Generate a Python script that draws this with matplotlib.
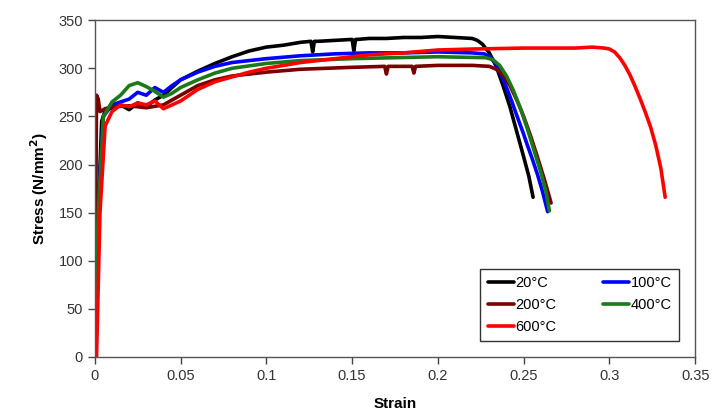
import matplotlib
matplotlib.use("Agg")
import matplotlib.pyplot as plt

# ---------------- Data ----------------
strain_20 = [0, 0.002, 0.004, 0.006, 0.01, 0.015, 0.02, 0.025, 0.03, 0.035, 0.04,
             0.045, 0.05, 0.06, 0.07, 0.08, 0.09, 0.10, 0.11, 0.12, 0.126, 0.127,
             0.128, 0.13, 0.14, 0.15, 0.151, 0.152, 0.153, 0.16, 0.17, 0.18, 0.19,
             0.20, 0.21, 0.22, 0.223, 0.226, 0.230, 0.234, 0.238, 0.242, 0.246,
             0.250, 0.253, 0.2555]
stress_20 = [0, 150, 245, 256, 259, 262, 257, 264, 260, 267, 272,
             280, 288, 297, 305, 312, 318, 322, 324, 327, 328, 317,
             328, 328, 329, 330, 318, 330, 330, 331, 331, 332, 332,
             333, 332, 331, 329, 325, 316, 302, 282, 260, 234,
             208, 188, 166]

strain_100 = [0, 0.002, 0.005, 0.01, 0.02, 0.025, 0.03, 0.035, 0.04, 0.045, 0.05,
              0.06, 0.07, 0.08, 0.10, 0.12, 0.14, 0.16, 0.18, 0.20, 0.22, 0.227,
              0.2304, 0.234, 0.237, 0.240, 0.243, 0.246, 0.2497, 0.252, 0.255,
              0.258, 0.261, 0.264]
stress_100 = [0, 160, 250, 262, 268, 275, 272, 280, 275, 282, 288,
              296, 302, 306, 310, 313, 315, 316, 316, 317, 316, 315,
              312, 304, 293, 280, 266, 251, 233, 221, 206, 190, 172, 151]

strain_200 = [0, 0.001, 0.002, 0.003, 0.006, 0.01, 0.02, 0.03, 0.04, 0.05, 0.06,
              0.07, 0.08, 0.10, 0.12, 0.15, 0.169, 0.170, 0.171, 0.185, 0.186,
              0.187, 0.20, 0.22, 0.23, 0.234, 0.238, 0.242, 0.246, 0.250, 0.254,
              0.258, 0.262, 0.266]
stress_200 = [0, 272, 268, 255, 258, 260, 261, 259, 262, 272, 282,
              288, 292, 296, 299, 301, 302, 294, 302, 302, 295,
              302, 303, 303, 302, 299, 293, 282, 267, 250, 230,
              208, 185, 160]

strain_400 = [0, 0.002, 0.005, 0.01, 0.015, 0.02, 0.025, 0.03, 0.035, 0.04, 0.045,
              0.05, 0.06, 0.07, 0.08, 0.10, 0.12, 0.15, 0.20, 0.228, 0.232,
              0.236, 0.240, 0.244, 0.248, 0.252, 0.256, 0.260, 0.263, 0.265]
stress_400 = [0, 150, 250, 265, 272, 282, 285, 281, 276, 270, 274,
              280, 288, 295, 300, 305, 308, 310, 312, 311, 309,
              303, 292, 277, 259, 238, 215, 192, 172, 152]

strain_600 = [0, 0.001, 0.003, 0.006, 0.01, 0.015, 0.02, 0.025, 0.03, 0.035, 0.04,
              0.045, 0.05, 0.055, 0.06, 0.07, 0.08, 0.09, 0.10, 0.12, 0.14, 0.16,
              0.18, 0.20, 0.22, 0.25, 0.28, 0.29, 0.297, 0.300, 0.303, 0.306,
              0.309, 0.312, 0.315, 0.318, 0.321, 0.324, 0.327, 0.330, 0.3325]
stress_600 = [0, 0, 150, 240, 255, 262, 260, 264, 262, 266, 258,
              262, 266, 272, 278, 286, 291, 296, 300, 306, 310, 314,
              316, 319, 320, 321, 321, 322, 321, 320, 317, 311,
              303, 293, 281, 268, 254, 239, 220, 196, 166]

labels = ["20°C", "100°C", "200°C", "400°C", "600°C"]
colors = ["#000000", "#0000ff", "#7a0000", "#1a7a1a", "#ff0000"]

x_ticks = [0, 0.05, 0.1, 0.15, 0.2, 0.25, 0.3, 0.35]
x_tick_labels = ["0", "0.05", "0.1", "0.15", "0.2", "0.25", "0.3", "0.35"]
y_ticks = [0, 50, 100, 150, 200, 250, 300, 350]

plt.rcParams["font.family"] = ["Liberation Sans", "DejaVu Sans"]

fig = plt.figure(figsize=(7.13, 4.2), dpi=100)
ax = fig.add_axes([0.133, 0.15, 0.842, 0.802])

series = [(strain_20, stress_20), (strain_100, stress_100),
          (strain_200, stress_200), (strain_400, stress_400),
          (strain_600, stress_600)]
handles = []
for (x, y), lab, col in zip(series, labels, colors):
    h, = ax.plot(x, y, color=col, lw=2.6, label=lab, solid_capstyle="round")
    handles.append(h)

ax.set_xlim(0, 0.35)
ax.set_ylim(0, 350)
ax.set_xticks(x_ticks)
ax.set_xticklabels(x_tick_labels)
ax.set_yticks(y_ticks)
ax.tick_params(direction="out", length=5, width=1, colors="#444444",
               labelsize=10.5, labelcolor="#333333")
for s in ax.spines.values():
    s.set_color("#555555")
    s.set_linewidth(1.0)

ax.set_xlabel("Strain", fontsize=11, fontweight="bold", labelpad=10)
ax.set_ylabel("Stress (N/mm$^\\mathbf{2}$)", fontsize=11, fontweight="bold", labelpad=6)

# column-first fill: 20/200/600 in first column, 100/400 in second
order = [0, 2, 4, 1, 3]
leg = ax.legend([handles[i] for i in order], [labels[i] for i in order],
                ncol=2, loc="lower right", bbox_to_anchor=(0.985, 0.025),
                fontsize=10.5, fancybox=False, edgecolor="#333333",
                handlelength=1.8, handletextpad=0.1, columnspacing=3.2,
                labelspacing=0.55, borderpad=0.5, framealpha=1)
leg.get_frame().set_linewidth(1.0)

fig.savefig("out.png", dpi=100)
